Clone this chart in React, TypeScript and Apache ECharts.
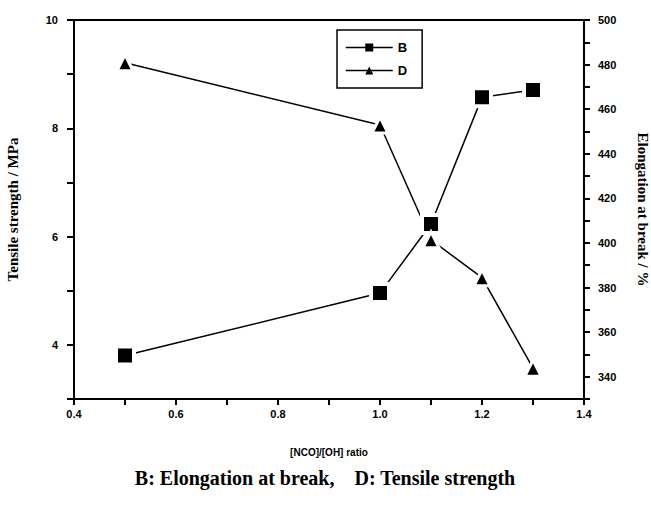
import React, { useEffect, useRef } from "react";
import * as echarts from "echarts";

const ratios = [0.5, 1.0, 1.1, 1.2, 1.3];
const elongationB = [349.5, 377.5, 408.5, 465.3, 468.6];
const tensileD = [9.21, 8.06, 5.94, 5.24, 3.57];
const seriesNames = ["B", "D"];
const caption = "B: Elongation at break,    D: Tensile strength";

export default function App() {
  const ref = useRef<HTMLDivElement>(null);
  useEffect(() => {
    document.body.style.margin = "0";
    if (!ref.current) return;
    const chart = echarts.init(ref.current, null, { renderer: "svg" });
    const tickFont = {
      fontFamily: "Liberation Sans",
      fontWeight: "bold" as const,
      fontSize: 11,
      color: "#000",
    };
    const titleFont = {
      fontFamily: "Liberation Serif",
      fontWeight: "bold" as const,
      fontSize: 15,
      color: "#000",
    };
    const axisLine = { show: true, lineStyle: { color: "#000", width: 2 } };
    chart.setOption({
      animation: false,
      backgroundColor: "#fff",
      grid: {
        left: 74,
        right: 67,
        top: 20,
        bottom: 107,
        containLabel: false,
        outerBoundsMode: "none",
      },
      legend: {
        show: true,
        data: seriesNames,
        orient: "vertical",
        left: 337,
        top: 30,
        padding: [11, 15, 11, 8],
        itemWidth: 47,
        itemHeight: 10,
        itemGap: 10,
        borderColor: "#000",
        borderWidth: 1.5,
        borderRadius: 0,
        itemStyle: { borderWidth: 0, color: "#000" },
        lineStyle: { color: "#000", width: 1.5 },
        textStyle: {
          fontFamily: "Liberation Sans",
          fontWeight: "bold",
          fontSize: 13,
          color: "#000",
        },
      },
      xAxis: [
        {
          type: "value",
          min: 0.4,
          max: 1.4,
          interval: 0.1,
          position: "bottom",
          axisLine,
          axisTick: { show: true, inside: false, length: 6, lineStyle: { color: "#000", width: 2 } },
          splitLine: { show: false },
          axisLabel: {
            ...tickFont,
            margin: 9,
            formatter: (v: number) => {
              const r = Math.round(v * 10);
              return r % 2 === 0 ? (r / 10).toFixed(1) : "";
            },
          },
          name: "[NCO]/[OH] ratio",
          nameLocation: "middle",
          nameGap: 48,
          nameTextStyle: {
            fontFamily: "Liberation Sans",
            fontWeight: "bold",
            fontSize: 10,
            color: "#000",
          },
        },
        {
          type: "value",
          min: 0.4,
          max: 1.4,
          position: "top",
          axisLine,
          axisTick: { show: false },
          axisLabel: { show: false },
          splitLine: { show: false },
        },
      ],
      yAxis: [
        {
          type: "value",
          min: 3,
          max: 10,
          interval: 1,
          position: "left",
          axisLine,
          axisTick: { show: true, inside: false, length: 7, lineStyle: { color: "#000", width: 2 } },
          splitLine: { show: false },
          axisLabel: {
            ...tickFont,
            margin: 16,
            formatter: (v: number) => (Math.round(v) % 2 === 0 ? String(Math.round(v)) : ""),
          },
          name: "Tensile strength / MPa",
          nameLocation: "middle",
          nameGap: 54,
          nameRotate: 90,
          nameTextStyle: titleFont,
        },
        {
          type: "value",
          min: 330,
          max: 500,
          interval: 10,
          position: "right",
          axisLine,
          axisTick: { show: true, inside: false, length: 6, lineStyle: { color: "#000", width: 2 } },
          splitLine: { show: false },
          axisLabel: {
            ...tickFont,
            margin: 14,
            formatter: (v: number) => (Math.round(v) % 20 === 0 ? String(Math.round(v)) : ""),
          },
          name: "Elongation at break / %",
          nameLocation: "middle",
          nameGap: 51,
          nameRotate: -90,
          nameTextStyle: titleFont,
        },
      ],
      series: [
        {
          name: seriesNames[0],
          type: "line",
          xAxisIndex: 0,
          yAxisIndex: 1,
          data: ratios.map((x, i) => [x, elongationB[i]]),
          symbol: "rect",
          symbolSize: 18,
          showAllSymbol: true,
          lineStyle: { color: "#000", width: 1.5 },
          itemStyle: { color: "#000", borderColor: "#fff", borderWidth: 4 },
          emphasis: { disabled: true },
        },
        {
          name: seriesNames[1],
          type: "line",
          xAxisIndex: 0,
          yAxisIndex: 0,
          data: ratios.map((x, i) => [x, tensileD[i]]),
          symbol: "triangle",
          symbolSize: 16,
          showAllSymbol: true,
          lineStyle: { color: "#000", width: 1.5 },
          itemStyle: { color: "#000", borderColor: "#fff", borderWidth: 3 },
          emphasis: { disabled: true },
        },
      ],
      graphic: [
        {
          type: "text",
          x: 325,
          y: 478,
          style: {
            text: caption,
            fontFamily: "Liberation Serif",
            fontWeight: "bold",
            fontSize: 20,
            fill: "#000",
            align: "center",
            verticalAlign: "middle",
          },
        },
      ],
    });
    return () => chart.dispose();
  }, []);
  return <div ref={ref} style={{ width: 651, height: 506 }} />;
}
